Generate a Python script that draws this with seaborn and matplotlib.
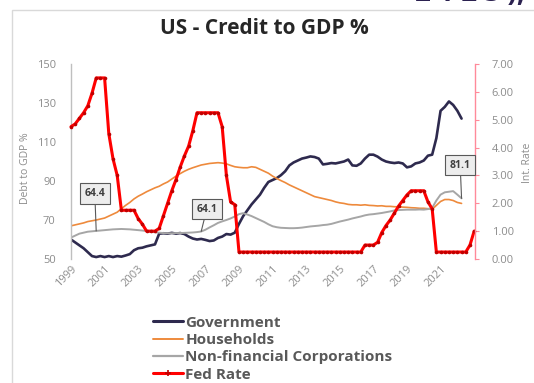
import numpy as np
import pandas as pd
import matplotlib
matplotlib.use("Agg")
import matplotlib.pyplot as plt
from matplotlib.patches import Rectangle
from matplotlib.lines import Line2D
import seaborn as sns

# ---- data (quarterly, % of GDP / % rate) ----
government = [
    60.0, 58.5, 57.0, 55.5, 53.5, 51.5, 51.0, 51.5, 51.0, 51.5, 51.0, 51.5,
    51.2, 51.8, 52.5, 54.5, 55.5, 55.8, 56.5, 57.0, 57.5, 63.0, 63.2, 63.0,
    63.4, 63.0, 63.3, 62.8, 61.5, 60.5, 60.0, 60.3, 59.8, 59.2, 59.5, 60.8,
    61.5, 62.8, 62.5, 63.5, 68.0, 72.0, 75.0, 78.0, 80.5, 83.0, 86.5, 89.5,
    90.5, 91.5, 93.0, 95.0, 98.0, 99.5, 100.5, 101.5, 102.0, 102.6, 102.3, 101.5,
    98.5, 98.8, 99.2, 99.0, 99.5, 100.0, 101.0, 98.0, 97.8, 99.0, 101.5, 103.5,
    103.5, 102.5, 101.0, 100.0, 99.5, 99.2, 99.5, 99.0, 97.0, 97.5, 99.0, 99.5,
    100.5, 103.0, 103.5, 112.0, 126.0, 128.0, 130.8, 129.0, 126.0, 122.0,
]
households = [
    67.0, 67.5, 68.0, 68.5, 69.2, 69.6, 70.0, 70.5, 71.0, 72.0, 73.0, 74.0,
    75.8, 77.5, 79.0, 80.8, 82.2, 83.3, 84.5, 85.5, 86.5, 87.3, 88.5, 89.5,
    91.0, 92.5, 93.8, 95.0, 96.0, 96.8, 97.5, 98.2, 98.6, 99.0, 99.2, 99.4,
    99.2, 98.8, 98.0, 97.3, 97.0, 96.8, 96.8, 97.3, 97.0, 96.0, 95.0, 94.0,
    92.5, 91.3, 90.2, 89.2, 88.0, 87.0, 86.0, 85.0, 84.0, 83.0, 82.0, 81.5,
    81.0, 80.5, 80.0, 79.3, 78.8, 78.5, 78.0, 77.8, 77.8, 77.6, 77.8, 77.5,
    77.4, 77.2, 77.3, 77.0, 77.0, 76.8, 76.8, 76.6, 76.5, 76.3, 76.2, 76.0,
    76.0, 75.8, 75.5, 77.5, 79.5, 80.5, 80.5, 80.0, 79.0, 78.5,
]
corporations = [
    61.0, 62.0, 63.0, 63.5, 64.0, 64.2, 64.4, 64.6, 64.8, 65.0, 65.2, 65.3,
    65.4, 65.3, 65.2, 65.0, 64.8, 64.6, 64.3, 64.0, 63.7, 63.5, 63.3, 63.2,
    63.2, 63.3, 63.3, 63.4, 63.5, 63.6, 63.8, 64.1, 65.0, 66.2, 67.3, 68.5,
    69.3, 70.0, 70.8, 71.8, 73.0, 73.5, 72.8, 72.0, 71.0, 70.0, 69.0, 67.8,
    66.8, 66.3, 66.0, 65.9, 65.8, 65.8, 65.9, 66.1, 66.4, 66.7, 66.9, 67.1,
    67.4, 67.6, 68.0, 68.6, 69.2, 69.7, 70.2, 70.8, 71.3, 71.8, 72.4, 72.8,
    73.0, 73.3, 73.6, 74.0, 74.4, 74.9, 75.1, 75.2, 75.3, 75.3, 75.3, 75.4,
    75.3, 75.6, 76.2, 80.0, 83.0, 84.2, 84.5, 84.8, 83.0, 81.1,
]
fed_rate = [
    4.75, 4.85, 5.05, 5.25, 5.50, 5.95, 6.50, 6.50, 6.50, 4.50, 3.60, 3.00,
    1.75, 1.75, 1.75, 1.75, 1.45, 1.25, 1.00, 1.00, 1.00, 1.10, 1.55, 2.00,
    2.45, 2.85, 3.30, 3.70, 4.05, 4.60, 5.25, 5.25, 5.25, 5.25, 5.25, 5.25,
    4.75, 3.00, 2.05, 1.95, 0.25, 0.25, 0.25, 0.25, 0.25, 0.25, 0.25, 0.25,
    0.25, 0.25, 0.25, 0.25, 0.25, 0.25, 0.25, 0.25, 0.25, 0.25, 0.25, 0.25,
    0.25, 0.25, 0.25, 0.25, 0.25, 0.25, 0.25, 0.25, 0.25, 0.25, 0.50, 0.50,
    0.50, 0.60, 0.95, 1.20, 1.40, 1.65, 1.90, 2.10, 2.30, 2.45, 2.45, 2.45,
    2.45, 2.05, 1.80, 0.25, 0.25, 0.25, 0.25, 0.25, 0.25, 0.25, 0.25, 0.50,
    1.00,
]
series_names = ["Government", "Households", "Non-financial Corporations"]
series_colors = ["#2E2A4E", "#EE8A3C", "#A6A6A6"]
fed_label = "Fed Rate"
left_ticks = [50, 70, 90, 110, 130, 150]
right_ticks = [0, 1, 2, 3, 4, 5, 6, 7]
year_ticks = list(range(1999, 2022, 2))
callouts = [(6, "64.4"), (31, "64.1"), (93, "81.1")]  # (quarter index, label)


def quarter_years(n):
    q = pd.period_range("1999Q1", periods=n, freq="Q")
    return q.year + (q.quarter - 1) / 4.0


debt_x = quarter_years(len(government))
fed_x = quarter_years(len(fed_rate))

debt = pd.DataFrame({
    "year": np.tile(debt_x, 3),
    "value": government + households + corporations,
    "series": np.repeat(series_names, len(government)),
})
fed = pd.DataFrame({"year": fed_x, "rate": fed_rate})

sns.set_theme(style="white")
plt.rcParams["font.family"] = ["Open Sans", "DejaVu Sans"]

fig = plt.figure(figsize=(5.34, 3.83), dpi=100)
fig.patch.set_facecolor("white")
W, H = 534.0, 383.0
ax = fig.add_axes([71 / W, 1 - 259 / H, (475 - 71) / W, (259 - 64) / H])

sns.lineplot(data=debt, x="year", y="value", hue="series", hue_order=series_names,
             palette=series_colors, ax=ax, legend=False, estimator=None,
             sort=False)
for line, lw in zip(ax.lines, [1.9, 1.2, 1.4]):
    line.set_linewidth(lw)

ax.set_xlim(1999, 2023.05)
ax.set_ylim(50, 150)
ax.set_yticks(left_ticks)
ax.set_xticks(year_ticks)
ax.set_xticklabels([str(y) for y in year_ticks], rotation=45, ha="right",
                   rotation_mode="anchor")
ax.tick_params(axis="y", labelsize=8, colors="#8C8C8C", length=0, pad=11)
ax.tick_params(axis="x", labelsize=8, colors="#8C8C8C", length=0, pad=3)
ax.set_xlabel("")
ax.set_ylabel("")
for s in ["top", "right", "bottom"]:
    ax.spines[s].set_visible(False)
ax.spines["left"].set_color("#BFBFBF")
ax.spines["left"].set_linewidth(1.0)

ax2 = ax.twinx()
sns.lineplot(data=fed, x="year", y="rate", ax=ax2, color="#FF0000",
             linewidth=2.2, marker="o", markersize=2.6, markeredgewidth=0,
             markerfacecolor="#C00000", estimator=None, sort=False,
             legend=False)
for ln in ax2.lines:
    ln.set_clip_on(False)
ax2.set_ylim(0, 7)
ax2.set_yticks(right_ticks)
ax2.set_yticklabels([f"{v:.2f}" for v in right_ticks])
ax2.tick_params(axis="y", labelsize=8, colors="#FF8A9A", length=3, width=0.8,
                pad=9, labelcolor="#8C8C8C")
ax2.set_ylabel("")
ax2.set_xlabel("")
for s in ["top", "left", "bottom"]:
    ax2.spines[s].set_visible(False)
ax2.spines["right"].set_color("#FF8A9A")
ax2.spines["right"].set_linewidth(1.0)

# value callouts on the corporate debt line
offsets = {"64.4": (-1, 27), "64.1": (4, 16), "81.1": (-1, 24)}
for idx, text in callouts:
    ax2.annotate(text, xy=(debt_x[idx], corporations[idx]), xycoords=ax.transData,
                 xytext=offsets[text], textcoords="offset points",
                 ha="center", va="center", fontsize=7.5, fontweight="bold",
                 color="#404040",
                 bbox=dict(boxstyle="square,pad=0.45", fc="#EDEDED",
                           ec="#595959", lw=0.8),
                 arrowprops=dict(arrowstyle="-", color="#595959", lw=0.8,
                                 shrinkA=0, shrinkB=0))

# axis titles
fig.text(26 / W, 1 - 168 / H, "Debt to GDP %", rotation=90, ha="center",
         va="center", fontsize=7.5, color="#8C8C8C")
fig.text(527 / W, 1 - 163 / H, "Int. Rate", rotation=90, ha="center",
         va="center", fontsize=7.5, color="#8C8C8C")

fig.text(264 / W, 1 - 28 / H, "US - Credit to GDP %", ha="center", va="center",
         fontsize=15, fontweight="bold", color="#262626")

# outer chart frame
fig.patches.append(Rectangle((12 / W, -0.1), 1.2, 1 - 9.5 / H + 0.1,
                             transform=fig.transFigure, fill=False,
                             ec="#D9D9D9", lw=1.0, zorder=0))

# lower edge of the heading sitting above the chart frame
fig.text(470 / W, 1 - 8 / H, "2 1 2 3 ),", ha="center", va="bottom",
         fontsize=20, fontweight="bold", color="#2B2150")

handles = [Line2D([], [], color=c, lw=lw) for c, lw in
           zip(series_colors, [2.2, 1.4, 1.6])]
handles.append(Line2D([], [], color="#FF0000", lw=2.2, marker="+",
                      markersize=5, markeredgecolor="#C00000", mew=1.2))
leg = fig.legend(handles, series_names + [fed_label], loc="upper left",
                 bbox_to_anchor=(145 / W, 1 - 308 / H), frameon=False,
                 fontsize=11, handlelength=2.0, handletextpad=0.15,
                 labelspacing=0.22, borderpad=0)
for t in leg.get_texts():
    t.set_color("#595959")
    t.set_fontweight("bold")

fig.savefig("out.png", dpi=100, facecolor="white")
